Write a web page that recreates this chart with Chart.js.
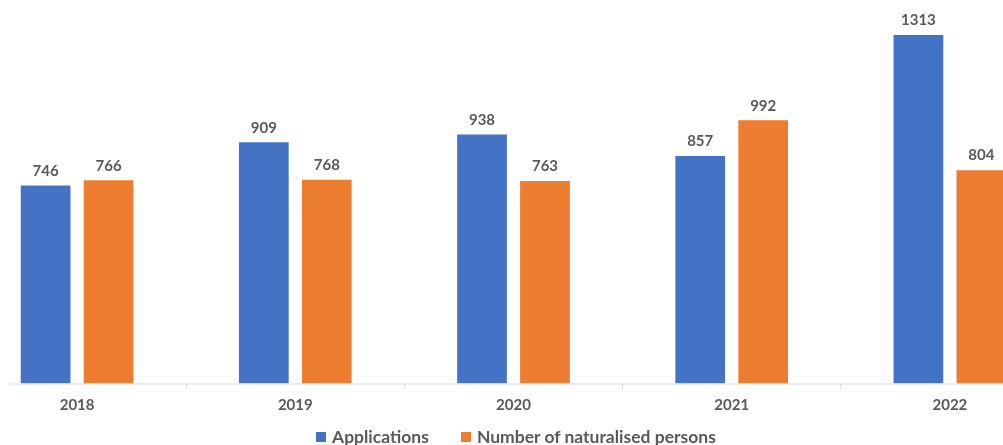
<!DOCTYPE html>
<html>
<head>
<meta charset="utf-8">
<script src="https://cdn.jsdelivr.net/npm/chart.js@4/dist/chart.umd.min.js"></script>
<style>
  html, body { margin: 0; padding: 0; background: #fff; overflow: hidden; }
  #wrap { position: relative; width: 1003px; height: 445px; overflow: hidden; }
  #chart { position: absolute; left: -32px; top: 0; }
  #legend {
    position: absolute; left: 316px; top: 426px;
    display: flex; gap: 32px;
    font: bold 17.5px Lato, "Open Sans", sans-serif; color: #595959;
    line-height: 22px; white-space: nowrap;
  }
  #legend span { display: flex; align-items: center; }
  #legend i { display: inline-block; width: 10px; height: 10px; margin-right: 6px; }
</style>
</head>
<body>
<div id="wrap">
  <canvas id="chart" width="1091" height="445"></canvas>
  <div id="legend"></div>
</div>
<script>
const years = ['2018', '2019', '2020', '2021', '2022'];
const applications = [746, 909, 938, 857, 1313];
const naturalised = [766, 768, 763, 992, 804];

const FONT = 'Lato, "Open Sans", sans-serif';
const TEXT = '#595959';

// value labels above each bar
const barValues = {
  id: 'barValues',
  afterDatasetsDraw(chart) {
    const ctx = chart.ctx;
    ctx.save();
    ctx.font = 'bold 15px ' + FONT;
    ctx.fillStyle = TEXT;
    ctx.textAlign = 'center';
    ctx.textBaseline = 'bottom';
    chart.data.datasets.forEach((ds, i) => {
      chart.getDatasetMeta(i).data.forEach((bar, j) => {
        ctx.fillText(ds.data[j], bar.x, bar.y - 7);
      });
    });
    ctx.restore();
  }
};

// baseline, starting a little in from the left edge
const baseline = {
  id: 'baseline',
  afterDraw(chart) {
    const ctx = chart.ctx;
    const y = chart.scales.y.getPixelForValue(0) + 0.5;
    ctx.save();
    ctx.strokeStyle = '#d9d9d9';
    ctx.lineWidth = 1;
    ctx.beginPath();
    ctx.moveTo(41, y);
    ctx.lineTo(chart.width, y);
    ctx.stroke();
    ctx.restore();
  }
};

const chart = new Chart(document.getElementById('chart'), {
  type: 'bar',
  data: {
    labels: years,
    datasets: [
      { label: 'Applications', data: applications, backgroundColor: '#4472c4' },
      { label: 'Number of naturalised persons', data: naturalised, backgroundColor: '#ed7d31' }
    ]
  },
  options: {
    responsive: false,
    animation: false,
    layout: { padding: { top: 12, left: 0, right: 0, bottom: 22.5 } },
    datasets: { bar: { categoryPercentage: 0.577, barPercentage: 0.79 } },
    scales: {
      x: {
        border: { display: false },
        grid: { offset: true, drawOnChartArea: false, drawTicks: true, tickLength: 5, color: '#d9d9d9' },
        ticks: { color: TEXT, font: { family: FONT, size: 15, weight: 'bold' }, padding: 8 }
      },
      y: { display: false, min: 0, max: 1400 }
    },
    plugins: {
      legend: { display: false },
      tooltip: { enabled: false }
    }
  },
  plugins: [barValues, baseline]
});

// legend with wider spacing between entries
const legend = document.getElementById('legend');
chart.data.datasets.forEach(ds => {
  const item = document.createElement('span');
  const box = document.createElement('i');
  box.style.background = ds.backgroundColor;
  item.appendChild(box);
  item.appendChild(document.createTextNode(ds.label));
  legend.appendChild(item);
});
</script>
</body>
</html>
